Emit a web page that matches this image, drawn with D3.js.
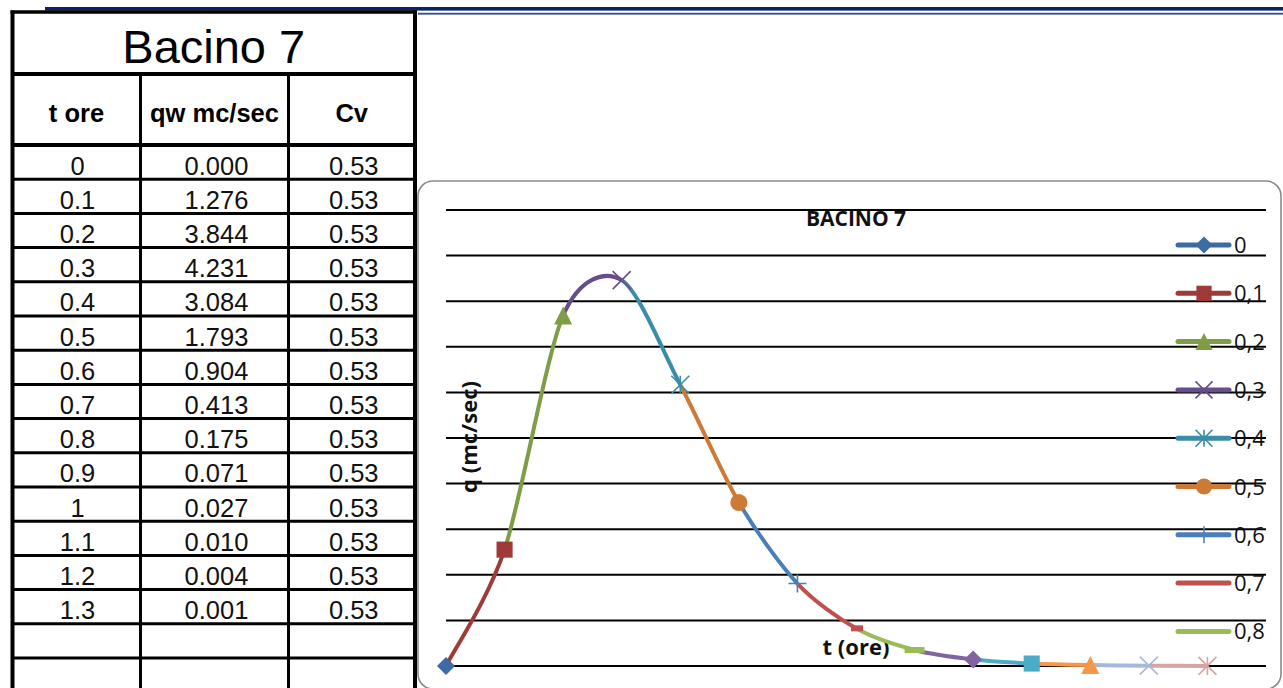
<!DOCTYPE html>
<html>
<head>
<meta charset="utf-8">
<script src="https://cdn.jsdelivr.net/npm/d3@7"></script>
<style>
  html, body { margin: 0; padding: 0; background: #ffffff; }
  svg { display: block; }
</style>
</head>
<body>
<svg id="sheet" width="1283" height="688"></svg>
<script>
// ---- data -------------------------------------------------------------
const basinName   = "Bacino 7";
const chartTitle  = "BACINO 7";
const tHours      = [0, 0.1, 0.2, 0.3, 0.4, 0.5, 0.6, 0.7, 0.8, 0.9, 1.0, 1.1, 1.2, 1.3];
const qLabels     = ["0.000", "1.276", "3.844", "4.231", "3.084", "1.793", "0.904",
                     "0.413", "0.175", "0.071", "0.027", "0.010", "0.004", "0.001"];
const cvLabels    = ["0.53", "0.53", "0.53", "0.53", "0.53", "0.53", "0.53",
                     "0.53", "0.53", "0.53", "0.53", "0.53", "0.53", "0.53"];
const tLabels     = ["0", "0.1", "0.2", "0.3", "0.4", "0.5", "0.6",
                     "0.7", "0.8", "0.9", "1", "1.1", "1.2", "1.3"];
const headers     = ["t ore", "qw mc/sec", "Cv"];
const qValues     = qLabels.map(Number);
const legendCount = 9;          // legend entries shown in the box
const yAxisTitle  = "q (mc/sec)";
const xAxisTitle  = "t (ore)";

// point colours and marker shapes (one per point, Excel "vary colours")
const pointColors = ["#3d6ba4", "#9e3b38", "#7f9c46", "#664e88", "#3a8da6", "#cc7a35", "#4a7ebb",
                     "#c0504d", "#9bbb59", "#8064a2", "#4bacc6", "#f79646", "#a7b9d9", "#d9a3a2"];
const pointShapes = ["diamond", "square", "triangle", "x", "star", "circle", "plus",
                     "dash", "longdash", "diamond", "square", "triangle", "x", "star"];

const svg = d3.select("#sheet");

// ---- page header rule -------------------------------------------------
svg.append("rect").attr("x", 45).attr("y", 7).attr("width", 1238).attr("height", 3.6).attr("fill", "#0b2461");
svg.append("rect").attr("x", 418).attr("y", 12.8).attr("width", 865).attr("height", 1.8).attr("fill", "#2f4f8f");

// ---- table -------------------------------------------------------------
const tbl = svg.append("g").attr("class", "table");
const tLeft = 12.5, tRight = 415, tTop = 12, titleBottom = 74, headBottom = 145, rowH = 34.2;
const colX = [tLeft, 140.5, 288.5, tRight];
const tableFont = "'Liberation Sans', Arial, sans-serif";

// title
tbl.append("text").attr("x", (tLeft + tRight) / 2).attr("y", 63)
  .attr("text-anchor", "middle").attr("font-family", tableFont).attr("font-size", 47)
  .text(basinName);

// headers
headers.forEach((h, i) => {
  tbl.append("text").attr("x", (colX[i] + colX[i + 1]) / 2).attr("y", 121.5)
    .attr("text-anchor", "middle").attr("font-family", tableFont)
    .attr("font-weight", "bold").attr("font-size", 25.5).text(h);
});

// body rows
const rowsData = tLabels.map((t, i) => [t, qLabels[i], cvLabels[i]]);
rowsData.forEach((row, r) => {
  row.forEach((v, c) => {
    tbl.append("text").attr("x", (colX[c] + colX[c + 1]) / 2 + (c === 0 ? 1 : 2))
      .attr("y", headBottom + r * rowH + 29.5)
      .attr("text-anchor", "middle").attr("font-family", tableFont)
      .attr("font-size", 25.5).attr("fill", "#111").text(v);
  });
});

// grid of the table
const nRowLines = 16;
for (let r = 1; r < nRowLines; r++) {
  const yy = headBottom + r * rowH;
  tbl.append("line").attr("x1", tLeft).attr("x2", tRight).attr("y1", yy).attr("y2", yy)
    .attr("stroke", "#000").attr("stroke-width", 3);
}
[titleBottom, headBottom].forEach(yy => {
  tbl.append("line").attr("x1", tLeft).attr("x2", tRight).attr("y1", yy).attr("y2", yy)
    .attr("stroke", "#000").attr("stroke-width", 4);
});
[colX[1], colX[2]].forEach(xx => {
  tbl.append("line").attr("x1", xx).attr("x2", xx).attr("y1", titleBottom).attr("y2", 688)
    .attr("stroke", "#000").attr("stroke-width", 3);
});
tbl.append("line").attr("x1", tLeft - 2).attr("x2", tRight + 2).attr("y1", tTop).attr("y2", tTop)
  .attr("stroke", "#000").attr("stroke-width", 3.5);
[tLeft, tRight].forEach(xx => {
  tbl.append("line").attr("x1", xx).attr("x2", xx).attr("y1", tTop - 1.5).attr("y2", 688)
    .attr("stroke", "#000").attr("stroke-width", 4);
});

// ---- chart -------------------------------------------------------------
const chartFont = "'Open Sans', 'Noto Sans', sans-serif";
const frame = { x: 418, y: 181, w: 863, h: 508, r: 15 };
svg.append("rect").attr("x", frame.x).attr("y", frame.y).attr("width", frame.w).attr("height", frame.h)
  .attr("rx", frame.r).attr("ry", frame.r).attr("fill", "#fff")
  .attr("stroke", "#8a8a8a").attr("stroke-width", 1.6);

const plot = { left: 446, right: 1266, top: 210, bottom: 666 };
const tStep = tHours[1] - tHours[0];
const x = d3.scaleLinear().domain([0, tHours[tHours.length - 1] + tStep]).range([plot.left, plot.right]);
const y = d3.scaleLinear().domain([0, 5]).range([plot.bottom, plot.top]);

const chart = svg.append("g").attr("class", "chart");

// title
chart.append("text").attr("x", (plot.left + plot.right) / 2).attr("y", 226)
  .attr("text-anchor", "middle").attr("font-family", chartFont).attr("font-weight", "bold")
  .attr("font-size", 21).attr("fill", "#111").text(chartTitle);

// horizontal gridlines
chart.append("g").selectAll("line").data(y.ticks(10)).join("line")
  .attr("x1", plot.left).attr("x2", plot.right)
  .attr("y1", d => y(d)).attr("y2", d => y(d))
  .attr("stroke", "#000").attr("stroke-width", 2);

// axis titles
chart.append("text")
  .attr("transform", `translate(477,${(plot.top + plot.bottom) / 2 - 1}) rotate(-90)`)
  .attr("text-anchor", "middle").attr("font-family", chartFont).attr("font-weight", "bold")
  .attr("font-size", 22).attr("fill", "#111").text(yAxisTitle);
chart.append("text").attr("x", (plot.left + plot.right) / 2).attr("y", 655)
  .attr("text-anchor", "middle").attr("font-family", chartFont).attr("font-weight", "bold")
  .attr("font-size", 22).attr("fill", "#111").text(xAxisTitle);

// smoothed curve, one coloured segment per point
const smooth = 1 / 7;
const pts = tHours.map((t, i) => [x(t), y(qValues[i])]);
const segs = chart.append("g").attr("fill", "none").attr("stroke-width", 4).attr("stroke-linecap", "butt");
for (let i = 1; i < pts.length; i++) {
  const p0 = pts[Math.max(i - 2, 0)], p1 = pts[i - 1], p2 = pts[i], p3 = pts[Math.min(i + 1, pts.length - 1)];
  const c1 = [p1[0] + (p2[0] - p0[0]) * smooth, p1[1] + (p2[1] - p0[1]) * smooth];
  const c2 = [p2[0] - (p3[0] - p1[0]) * smooth, p2[1] - (p3[1] - p1[1]) * smooth];
  const path = d3.path();
  path.moveTo(p1[0], p1[1]);
  path.bezierCurveTo(c1[0], c1[1], c2[0], c2[1], p2[0], p2[1]);
  segs.append("path").attr("d", path.toString()).attr("stroke", pointColors[i]);
}

// marker drawing
function drawMarker(g, shape, cx, cy, color, s) {
  const h = s / 2;
  switch (shape) {
    case "diamond":
      g.append("path").attr("d", d3.symbol(d3.symbolSquare, s * s / 2)()).attr("transform", `translate(${cx},${cy}) rotate(45)`).attr("fill", color);
      break;
    case "square":
      g.append("path").attr("d", d3.symbol(d3.symbolSquare, s * s * 0.8)()).attr("transform", `translate(${cx},${cy})`).attr("fill", color);
      break;
    case "triangle":
      g.append("path").attr("d", `M0,${-h}L${h},${h}L${-h},${h}Z`).attr("transform", `translate(${cx},${cy})`).attr("fill", color);
      break;
    case "circle":
      g.append("circle").attr("cx", cx).attr("cy", cy).attr("r", h * 0.95).attr("fill", color);
      break;
    case "x":
      g.append("path").attr("d", `M${-h},${-h}L${h},${h}M${-h},${h}L${h},${-h}`).attr("transform", `translate(${cx},${cy})`)
        .attr("stroke", color).attr("stroke-width", 1.6).attr("fill", "none");
      break;
    case "star":
      g.append("path").attr("d", `M${-h},${-h}L${h},${h}M${-h},${h}L${h},${-h}M0,${-h}L0,${h}`).attr("transform", `translate(${cx},${cy})`)
        .attr("stroke", color).attr("stroke-width", 1.6).attr("fill", "none");
      break;
    case "plus":
      g.append("path").attr("d", `M${-h},0L${h},0M0,${-h}L0,${h}`).attr("transform", `translate(${cx},${cy})`)
        .attr("stroke", color).attr("stroke-width", 1.6).attr("fill", "none");
      break;
    case "dash":
      g.append("rect").attr("x", cx - 5).attr("y", cy - 3).attr("width", 12).attr("height", 6).attr("fill", color);
      break;
    case "longdash":
      g.append("rect").attr("x", cx - 10).attr("y", cy - 3).attr("width", 20).attr("height", 6).attr("fill", color);
      break;
  }
}

const markers = chart.append("g");
pts.forEach((p, i) => drawMarker(markers, pointShapes[i], p[0], p[1], pointColors[i], 18));

// legend
const legend = chart.append("g");
const legY = d3.scaleLinear().domain([0, 1]).range([245, 293.3]);
tLabels.slice(0, legendCount).forEach((lab, i) => {
  const ly = legY(i);
  legend.append("line").attr("x1", 1178).attr("x2", 1229).attr("y1", ly).attr("y2", ly)
    .attr("stroke", pointColors[i]).attr("stroke-width", 5).attr("stroke-linecap", "round");
  if (pointShapes[i] !== "dash" && pointShapes[i] !== "longdash") {
    drawMarker(legend, pointShapes[i], 1204, ly, pointColors[i], 17);
  }
  legend.append("text").attr("x", 1234).attr("y", ly + 8)
    .attr("font-family", chartFont).attr("font-size", 22).attr("fill", "#111")
    .text(lab.replace(".", ","));
});
</script>
</body>
</html>
